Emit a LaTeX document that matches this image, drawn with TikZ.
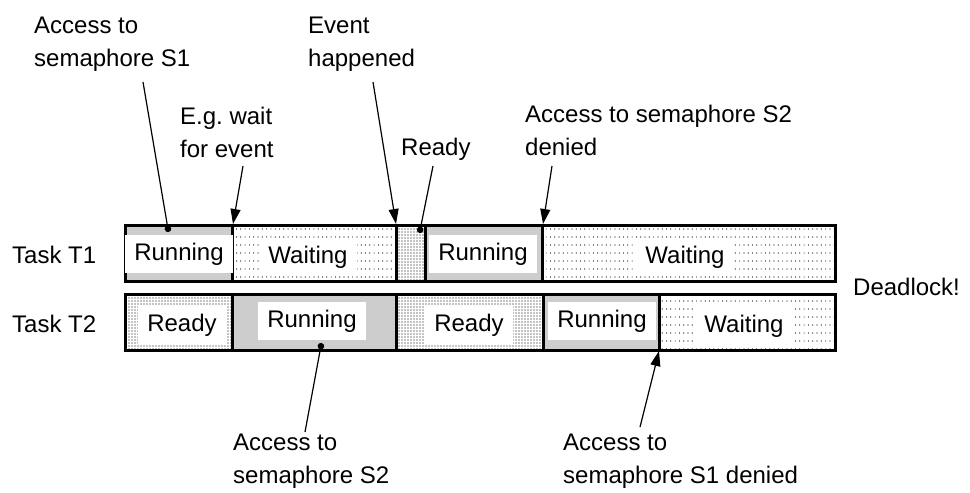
\documentclass[tikz,border=0pt]{standalone}
\usepackage{fontspec}
\setmainfont{Liberation Sans}
\usetikzlibrary{arrows.meta,patterns,positioning}

% dot fills for the three task states
\pgfdeclarepatternformonly{rundots}{\pgfqpoint{-1pt}{-1pt}}{\pgfqpoint{1pt}{1pt}}{\pgfqpoint{2pt}{2pt}}{\pgfpathcircle{\pgfpointorigin}{0.7pt}\pgfusepath{fill}}
\pgfdeclarepatternformonly{readydots}{\pgfqpoint{-1pt}{-1pt}}{\pgfqpoint{1pt}{1pt}}{\pgfqpoint{3pt}{3pt}}{\pgfpathcircle{\pgfpointorigin}{0.6pt}\pgfusepath{fill}}
\pgfdeclarepatternformonly{waitdots}{\pgfqpoint{-1pt}{-1pt}}{\pgfqpoint{1pt}{1pt}}{\pgfqpoint{4.3pt}{8pt}}{\pgfpathcircle{\pgfpointorigin}{0.6pt}\pgfusepath{fill}}

\begin{document}
\begin{tikzpicture}[x=1pt,y=-1pt,font=\fontsize{24}{33}\selectfont]
\tikzstyle{seg}=[draw, line width=3pt, minimum height=56pt, inner sep=0pt, outer sep=0pt]
\tikzstyle{running}=[seg, pattern=rundots, pattern color=black!85]
\tikzstyle{ready}=[seg, pattern=readydots]
\tikzstyle{waiting}=[seg, pattern=waitdots]
\tikzstyle{statetext}=[fill=white, anchor=base, inner xsep=9pt, inner ysep=8pt, text height=17pt, text depth=5pt]
\tikzstyle{note}=[anchor=north west, align=left, inner sep=0pt]
\tikzstyle{arrowline}=[line width=1.2pt, -{Triangle[length=15pt,width=10pt]}]
\tikzstyle{dotline}=[line width=1.2pt, -{Circle[length=6.5pt]}]

\useasboundingbox (0,0) rectangle (970,493);

% task T1
\node[running, minimum width=107pt, anchor=west] (t1a) at (125,253) {};
\node[waiting, minimum width=164pt, right=0pt of t1a] (t1b) {};
\node[ready,   minimum width=29pt,  right=0pt of t1b] (t1c) {};
\node[running, minimum width=117pt, right=0pt of t1c] (t1d) {};
\node[waiting, minimum width=293pt, right=0pt of t1d] (t1e) {};

% task T2
\node[ready,   minimum width=107pt, anchor=west] (t2a) at (125,322) {};
\node[running, minimum width=164pt, right=0pt of t2a] (t2b) {};
\node[ready,   minimum width=147pt, right=0pt of t2b] (t2c) {};
\node[running, minimum width=116pt, right=0pt of t2c] (t2d) {};
\node[waiting, minimum width=176pt, right=0pt of t2d] (t2e) {};

\node[statetext] (t1atext) at (179,260) {Running};
\node[statetext] (t1btext) at (308,263) {Waiting};
\node[statetext] (t1dtext) at (483,260) {Running};
\node[statetext] (t1etext) at (685,263) {Waiting};
\node[statetext] (t2atext) at (182,331) {Ready};
\node[statetext] (t2btext) at (312,327) {Running};
\node[statetext] (t2ctext) at (469,331) {Ready};
\node[statetext] (t2dtext) at (602,327) {Running};
\node[statetext] (t2etext) at (744,332) {Waiting};

\node[anchor=base west, inner sep=0pt] (task1) at (12,263) {Task T1};
\node[anchor=base west, inner sep=0pt] (task2) at (12,332) {Task T2};
\node[anchor=west, inner sep=0pt] (deadlock) at (853,287) {Deadlock!};

% notes
\node[note] (gets1)    at (34,17)   {Access to\\semaphore S1};
\node[note] (waitev)   at (180,107) {E.g.\ wait\\for event};
\node[note] (event)    at (308,17)  {Event\\happened};
\node[note] (readyagn) at (401,138) {Ready};
\node[note] (nos2)     at (525,105) {Access to semaphore S2\\denied};
\node[note] (gets2)    at (233,434) {Access to\\semaphore S2};
\node[note] (nos1)     at (563,434) {Access to\\semaphore S1 denied};

\coordinate (gets1from) at (143,82);
\coordinate (gets1at)   at (168.5,232);
\coordinate (waitevfrom) at (243,166);
\coordinate (waitevat)   at (233,224);
\coordinate (eventfrom) at (373,82);
\coordinate (eventat)   at (396,224);
\coordinate (readyfrom) at (433,166);
\coordinate (readyat)   at (419.5,233);
\coordinate (nos2from) at (552,166);
\coordinate (nos2at)   at (543,224);
\coordinate (gets2from) at (305,432);
\coordinate (gets2at)   at (321.5,343);
\coordinate (nos1from) at (640,427);
\coordinate (nos1at)   at (659,351);

\draw[dotline]   (gets1from) -- (gets1at);
\draw[arrowline] (waitevfrom) -- (waitevat);
\draw[arrowline] (eventfrom) -- (eventat);
\draw[dotline]   (readyfrom) -- (readyat);
\draw[arrowline] (nos2from) -- (nos2at);
\draw[dotline]   (gets2from) -- (gets2at);
\draw[arrowline] (nos1from) -- (nos1at);
\end{tikzpicture}
\end{document}
